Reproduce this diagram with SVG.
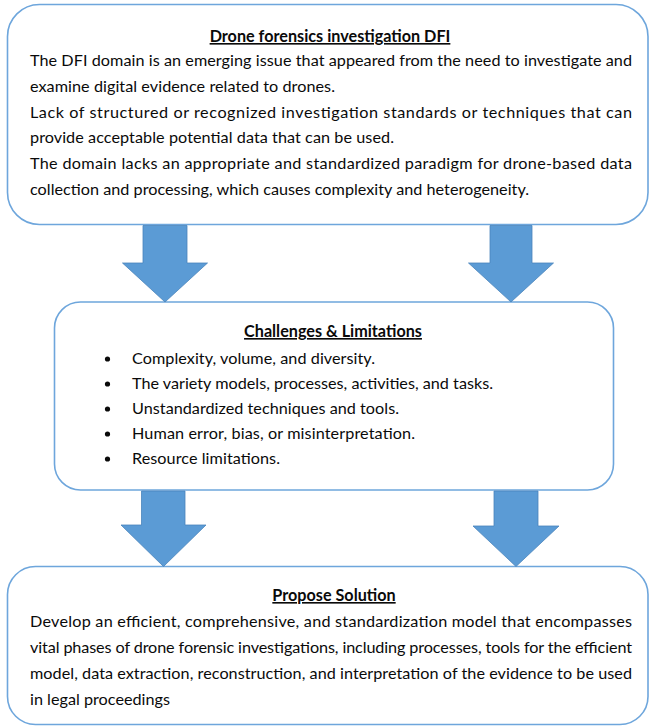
<svg xmlns="http://www.w3.org/2000/svg" width="650" height="727" viewBox="0 0 650 727">
  <style>
    .box { fill: #ffffff; stroke: #6ea6dc; stroke-width: 1.6; }
    .arrow { fill: #5b9bd5; stroke: #4a84bb; stroke-width: 0.8; }
    text { font-family: Lato, "Open Sans", "Liberation Sans", sans-serif; font-size: 16.2px; fill: #0a0a0a; }
    .title { font-weight: bold; text-decoration: underline; text-anchor: middle; }
  </style>
  <rect width="650" height="727" fill="#ffffff"/>

  <!-- Stage 1: problem statement -->
  <g id="node-dfi">
    <rect class="box" x="7.5" y="4.5" width="640.5" height="220" rx="32" ry="32"/>
    <text class="title" x="330" y="42">Drone forensics investigation DFI</text>
    <text x="30" y="66" textLength="602" lengthAdjust="spacing">The DFI domain is an emerging issue that appeared from the need to investigate and</text>
    <text x="30" y="92" textLength="305" lengthAdjust="spacing">examine digital evidence related to drones.</text>
    <text x="30" y="118" textLength="602" lengthAdjust="spacing">Lack of structured or recognized investigation standards or techniques that can</text>
    <text x="30" y="143" textLength="364" lengthAdjust="spacing">provide acceptable potential data that can be used.</text>
    <text x="30" y="169" textLength="602" lengthAdjust="spacing">The domain lacks an appropriate and standardized paradigm for drone-based data</text>
    <text x="30" y="195" textLength="499" lengthAdjust="spacing">collection and processing, which causes complexity and heterogeneity.</text>
  </g>

  <!-- Stage 2: challenges -->
  <g id="node-challenges">
    <rect class="box" x="54.5" y="302" width="559" height="188" rx="26" ry="26"/>
    <text class="title" x="333" y="337">Challenges &amp; Limitations</text>
    <g id="bullets" fill="#0a0a0a">
      <circle cx="107.5" cy="359" r="2.6"/>
      <circle cx="107.5" cy="384" r="2.6"/>
      <circle cx="107.5" cy="409" r="2.6"/>
      <circle cx="107.5" cy="434" r="2.6"/>
      <circle cx="107.5" cy="459" r="2.6"/>
    </g>
    <text x="132" y="364" textLength="243" lengthAdjust="spacing">Complexity, volume, and diversity.</text>
    <text x="132" y="389" textLength="361" lengthAdjust="spacing">The variety models, processes, activities, and tasks.</text>
    <text x="132" y="414" textLength="267" lengthAdjust="spacing">Unstandardized techniques and tools.</text>
    <text x="132" y="439" textLength="283" lengthAdjust="spacing">Human error, bias, or misinterpretation.</text>
    <text x="132" y="464" textLength="148" lengthAdjust="spacing">Resource limitations.</text>
  </g>

  <!-- Stage 3: proposed solution -->
  <g id="node-solution">
    <rect class="box" x="7.5" y="566.5" width="640.5" height="158" rx="28" ry="28"/>
    <text class="title" x="334" y="601">Propose Solution</text>
    <text x="30" y="627" textLength="602" lengthAdjust="spacing">Develop an efficient, comprehensive, and standardization model that encompasses</text>
    <text x="30" y="653" textLength="602" lengthAdjust="spacing">vital phases of drone forensic investigations, including processes, tools for the efficient</text>
    <text x="30" y="679" textLength="602" lengthAdjust="spacing">model, data extraction, reconstruction, and interpretation of the evidence to be used</text>
    <text x="30" y="705" textLength="140" lengthAdjust="spacing">in legal proceedings</text>
  </g>

  <!-- Block arrows between stages -->
  <g id="connectors">
    <path class="arrow" d="M143,225.5 H187 V263 H207.5 L165,302 L122.5,263 H143 Z"/>
    <path class="arrow" d="M490,225.5 H532 V263 H553.5 L511,302 L468.5,263 H490 Z"/>
    <path class="arrow" d="M141.5,491 H185 V525 H206 L163.5,566.5 L121,525 H141.5 Z"/>
    <path class="arrow" d="M494,491 H538 V526 H559 L516,566.5 L473,526 H494 Z"/>
  </g>
</svg>
